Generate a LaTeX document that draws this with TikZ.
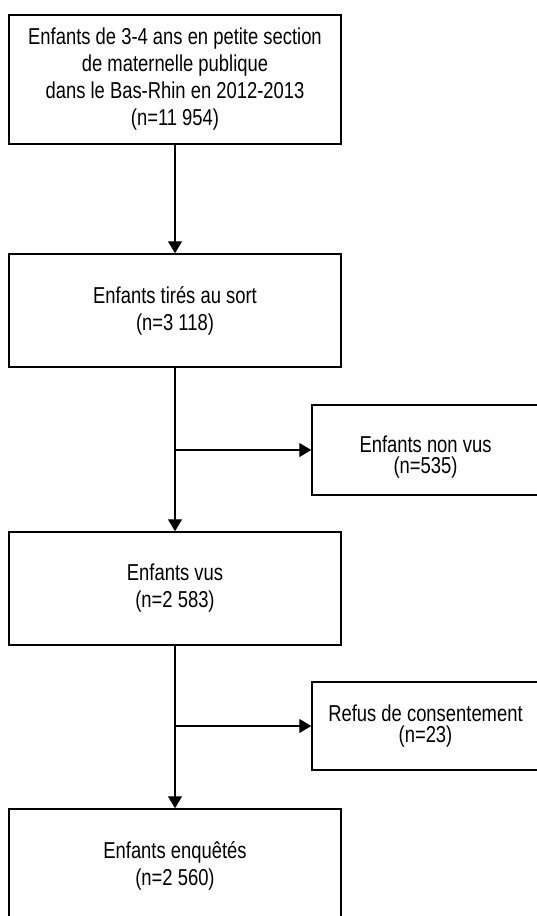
\documentclass[tikz,border=0pt]{standalone}
\usepackage{fontspec}
\setmainfont{Liberation Sans}[FakeStretch=0.80]
\usetikzlibrary{arrows.meta}

\begin{document}
\begin{tikzpicture}[x=1pt,y=-1pt,
  box/.style={draw, line width=1.5pt, align=center, inner sep=0pt,
    minimum width=332pt, minimum height=113pt, font=\fontsize{23}{27}\selectfont},
  sidebox/.style={draw, line width=1.5pt, align=center, inner sep=0pt,
    minimum width=227pt, minimum height=90pt, font=\fontsize{23}{21}\selectfont},
  flow/.style={-{Triangle[length=12pt,width=14pt]}, line width=1.2pt}]
\useasboundingbox (0,0) rectangle (537,916);
\clip (0,0) rectangle (537,916);
\node[box, minimum height=129pt] (all) at (175,79.5)
  {Enfants de 3-4 ans en petite section\\de maternelle publique\\dans le Bas-Rhin en 2012-2013\\(n=11 954)};
\node[box] (tires) at (175,310.5) {Enfants tirés au sort\\(n=3 118)};
\node[box] (vus) at (175,588.5) {Enfants vus\\(n=2 583)};
\node[box] (enq) at (175,865.5) {Enfants enquêtés\\(n=2 560)};
\node[sidebox] (nonvus) at (425.5,450) {\rule{0pt}{30pt}Enfants non vus\\(n=535)};
\node[sidebox, minimum height=88pt] (refus) at (425.5,726) {Refus de consentement\\(n=23)};
% main line
\draw[flow] (all) -- (tires);
\draw[flow] (tires) -- (vus);
\draw[flow] (vus) -- (enq);
% exclusions
\coordinate (b1) at (tires |- nonvus);
\coordinate (b2) at (vus |- refus);
\draw[flow] (b1) -- (nonvus);
\draw[flow] (b2) -- (refus);
\end{tikzpicture}
\end{document}
